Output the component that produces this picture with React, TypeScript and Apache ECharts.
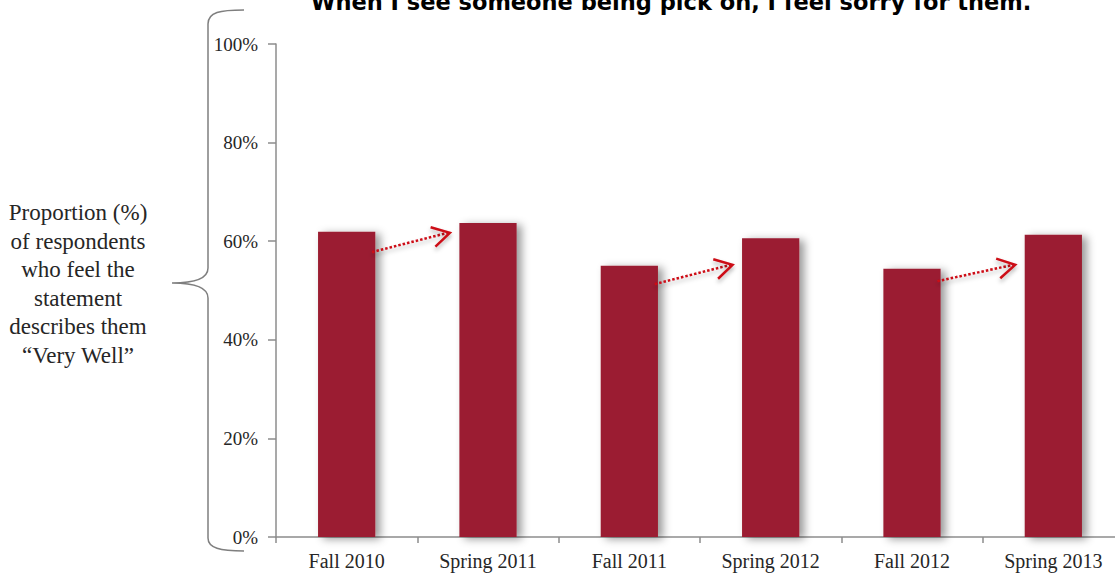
import React, { useEffect, useRef } from "react";
import * as echarts from "echarts";

const categories = ["Fall 2010", "Spring 2011", "Fall 2011", "Spring 2012", "Fall 2012", "Spring 2013"];
const values = [61.9, 63.7, 55.0, 60.6, 54.4, 61.3];
// arrows: [fromIndex, fromValue, toIndex, toValue]
const arrows = [
  [0, 57.8, 1, 61.7],
  [2, 51.3, 3, 55.2],
  [4, 51.9, 5, 55.2],
];
const yTicks = [0, 20, 40, 60, 80, 100];
const titleText = "When I see someone being pick on, I feel sorry for them.";
const sideLabel = "Proportion (%)\nof respondents\nwho feel the\nstatement\ndescribes them\n\u201cVery Well\u201d";

const BRACE =
  "M244,10 C220,10 208,12 208,24 L208,268 C208,278 196,283 172,283 C196,283 208,288 208,298 L208,538 C208,548 220,551 244,551";

export default function App() {
  const ref = useRef<HTMLDivElement>(null);
  useEffect(() => {
    if (!ref.current) return;
    echarts.graphic.registerShape("brace", echarts.graphic.extendPath(BRACE, {}));
    const chart = echarts.init(ref.current, null, { renderer: "svg" });
    const serif = "'Liberation Serif', 'DejaVu Serif', serif";
    chart.setOption({
      animation: false,
      grid: {
        left: 276,
        top: 44,
        width: 848,
        height: 493,
        containLabel: false,
        outerBoundsMode: "none",
      },
      xAxis: {
        type: "category",
        data: categories,
        axisLine: { lineStyle: { color: "#8c8c8c", width: 1.5 } },
        axisTick: { show: true, length: 6, lineStyle: { color: "#8c8c8c", width: 1.5 } },
        axisLabel: { color: "#262626", fontFamily: serif, fontSize: 20, margin: 14 },
      },
      yAxis: {
        type: "value",
        min: 0,
        max: 100,
        interval: 20,
        axisLine: { show: true, lineStyle: { color: "#8c8c8c", width: 1.5 } },
        axisTick: { show: true, length: 8, lineStyle: { color: "#8c8c8c", width: 1.5 } },
        axisLabel: {
          color: "#262626",
          fontFamily: serif,
          fontSize: 19,
          margin: 18,
          formatter: (v: number) => (yTicks.includes(v) ? v + "%" : ""),
        },
        splitLine: {
          lineStyle: {
            color: "#8c8c8c",
            width: 1.5,
            shadowColor: "rgba(0,0,0,0.3)",
            shadowBlur: 2,
            shadowOffsetY: 1.5,
          },
        },
      },
      series: [
        {
          type: "bar",
          data: values,
          barWidth: "40.5%",
          itemStyle: {
            color: "#9b1b31",
            shadowColor: "rgba(0,0,0,0.4)",
            shadowBlur: 8,
            shadowOffsetX: 5,
            shadowOffsetY: 2,
          },
          z: 2,
        },
        {
          type: "custom",
          data: arrows,
          encode: { x: 0, y: 1 },
          z: 5,
          renderItem: (params: any, api: any) => {
            const s = api.coord([api.value(0), api.value(1)]);
            const e = api.coord([api.value(2), api.value(3)]);
            const band = api.size([1, 0])[0];
            const sx = s[0] + band * 0.18;
            const ex = e[0] - band * 0.27;
            const sy = s[1];
            const ey = e[1];
            const dx = ex - sx;
            const dy = ey - sy;
            const len = Math.sqrt(dx * dx + dy * dy);
            const rx = -dx / len;
            const ry = -dy / len;
            const L = 20;
            const th = (30 * Math.PI) / 180;
            const c = Math.cos(th);
            const sn = Math.sin(th);
            const a1 = [ex + L * (rx * c - ry * sn), ey + L * (ry * c + rx * sn)];
            const a2 = [ex + L * (rx * c + ry * sn), ey + L * (ry * c - rx * sn)];
            const color = "#cc0a14";
            return {
              type: "group",
              children: [
                {
                  type: "line",
                  shape: { x1: sx, y1: sy, x2: ex - 2, y2: ey },
                  style: {
                    stroke: color,
                    lineWidth: 2.5,
                    lineDash: [2.5, 2],
                    shadowColor: "rgba(0,0,0,0.3)",
                    shadowBlur: 4,
                    shadowOffsetY: 3,
                  },
                },
                {
                  type: "polyline",
                  shape: { points: [a1, [ex, ey], a2] },
                  style: {
                    stroke: color,
                    lineWidth: 2.5,
                    fill: "none",
                    shadowColor: "rgba(0,0,0,0.3)",
                    shadowBlur: 4,
                    shadowOffsetY: 3,
                  },
                },
              ],
            };
          },
        },
      ],
      graphic: [
        {
          type: "text",
          x: 671,
          y: 13.5,
          style: {
            text: titleText,
            fontFamily: "'DejaVu Sans', sans-serif",
            fontWeight: "bold",
            fontSize: 22.5,
            fill: "#000",
            textAlign: "center",
            textVerticalAlign: "bottom",
          },
        },
        {
          type: "text",
          x: 78,
          y: 284,
          style: {
            text: sideLabel,
            fontFamily: serif,
            fontSize: 23,
            lineHeight: 28.6,
            fill: "#262626",
            textAlign: "center",
            textVerticalAlign: "middle",
          },
        },
        {
          type: "brace",
          x: 0,
          y: 0,
          style: { fill: "none", stroke: "#7f7f7f", lineWidth: 1.5 },
        },
      ],
    });
    return () => chart.dispose();
  }, []);
  return <div ref={ref} style={{ width: 1115, height: 573, position: "absolute", left: 0, top: 0 }} />;
}
